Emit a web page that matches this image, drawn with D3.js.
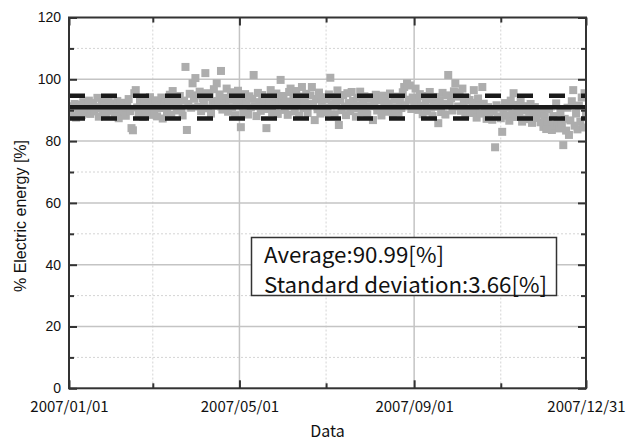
<!DOCTYPE html>
<html>
<head>
<meta charset="utf-8">
<script src="https://cdnjs.cloudflare.com/ajax/libs/d3/7.8.5/d3.min.js"></script>
<style>
	body { margin: 0; background: #fff; }
	.tick text { fill: #111; }
</style>
</head>
<body>
<div id="chart"></div>
<script>

// tick labels
var majorDates = ['2007/01/01', '2007/05/01', '2007/09/01', '2007/12/31'];
var minorDates = ['2007/03/01', '2007/07/01', '2007/11/01'];
var yMajor = [0, 20, 40, 60, 80, 100, 120];
var yMinor = [10, 30, 50, 70, 90, 110];

var average = 90.99;
var stdDev = 3.66;

// daily % electric energy, one array per month
var energyJan = [89.2, 90.5, 88.1, 91.3, 92.0, 87.6, 90.8, 89.9, 91.7, 88.4, 92.6, 90.1, 89.0, 91.9, 93.1, 88.8, 90.4, 92.3, 89.6, 91.0, 94.0, 87.9, 90.7, 92.8, 89.3, 91.5, 88.6, 90.2, 93.4, 89.8, 91.2];
var energyFeb = [92.1, 88.9, 90.6, 93.0, 87.4, 91.8, 89.5, 92.4, 90.0, 88.2, 91.4, 93.6, 89.7, 84.2, 83.5, 95.5, 96.5, 90.9, 88.7, 92.7, 91.1, 87.8, 93.3, 90.3, 89.1, 92.2, 94.2, 88.5];
var energyMar = [91.6, 89.4, 93.2, 88.0, 92.5, 90.7, 94.1, 87.3, 91.9, 93.8, 89.2, 92.9, 95.0, 88.6, 96.2, 91.4, 93.5, 89.9, 92.3, 94.6, 90.5, 88.3, 93.1, 104.0, 83.6, 92.0, 95.3, 90.8, 98.7, 93.7, 100.4];
var energyApr = [94.8, 91.2, 96.0, 89.7, 93.9, 92.4, 102.0, 95.5, 90.6, 94.3, 88.9, 93.0, 96.8, 91.5, 98.7, 92.8, 95.1, 102.7, 90.2, 94.0, 92.1, 97.0, 89.5, 93.6, 95.8, 91.0, 94.7, 88.4, 92.9, 96.3];
var energyMay = [91.8, 84.5, 93.4, 89.0, 95.2, 92.0, 88.6, 94.5, 90.9, 93.7, 101.4, 91.3, 88.1, 95.6, 92.6, 89.8, 94.9, 91.1, 93.0, 84.2, 90.4, 92.7, 96.5, 89.3, 94.1, 91.9, 95.4, 88.8, 93.3, 99.8, 92.2];
var energyJun = [94.6, 90.1, 92.8, 88.5, 95.9, 97.0, 91.4, 93.9, 89.6, 96.2, 92.5, 88.2, 94.4, 97.5, 90.7, 93.1, 95.3, 89.1, 92.0, 94.8, 97.5, 91.6, 86.8, 93.6, 90.3, 95.7, 88.9, 92.9, 94.2, 90.8];
var energyJul = [93.5, 89.4, 95.1, 100.5, 91.7, 94.3, 88.7, 92.6, 96.4, 85.2, 93.2, 90.0, 94.9, 91.2, 88.4, 95.5, 92.3, 89.7, 95.9, 93.0, 90.6, 87.9, 94.0, 91.5, 96.0, 89.2, 92.7, 94.5, 90.9, 88.6, 93.8];
var energyAug = [91.3, 94.2, 86.8, 92.4, 95.0, 89.9, 93.3, 90.5, 88.3, 94.7, 91.8, 93.9, 89.5, 92.1, 95.4, 90.2, 88.9, 93.6, 91.0, 94.4, 89.2, 92.9, 90.7, 95.8, 97.5, 91.6, 98.7, 93.4, 98.0, 90.4, 94.1];
var energySep = [92.6, 97.0, 93.7, 90.1, 95.2, 91.4, 88.7, 94.6, 92.2, 89.6, 93.5, 95.9, 90.8, 88.1, 92.9, 94.3, 91.1, 85.8, 93.2, 89.4, 95.6, 92.0, 88.6, 94.8, 101.4, 91.7, 93.9, 89.9, 96.1, 98.7];
var energyOct = [94.4, 91.2, 95.7, 89.8, 97.0, 92.7, 88.4, 94.0, 90.5, 93.3, 89.1, 92.4, 96.5, 90.0, 87.6, 93.8, 91.5, 88.9, 97.5, 92.1, 89.4, 87.2, 91.0, 88.5, 90.3, 86.9, 89.7, 78.0, 91.6, 88.0, 90.8];
var energyNov = [87.4, 83.0, 89.5, 92.3, 88.2, 90.9, 86.6, 93.1, 89.0, 95.5, 91.7, 87.8, 90.1, 88.6, 92.8, 86.3, 89.9, 91.3, 87.1, 90.6, 88.4, 92.0, 85.9, 89.3, 91.0, 87.5, 90.2, 88.8, 86.1, 89.6];
var energyDec = [84.6, 87.9, 83.9, 86.5, 90.4, 85.2, 83.6, 88.1, 84.9, 92.2, 86.0, 84.1, 89.3, 85.6, 78.7, 87.2, 83.4, 90.8, 82.0, 86.7, 92.9, 96.5, 85.0, 88.9, 83.8, 91.5, 86.3, 94.1, 84.4, 95.5, 89.0];

var svgWidth = 629;
var svgHeight = 441;
var margin = {top: 17.5, right: 43, bottom: 52.7, left: 69};
var plotW = svgWidth - margin.left - margin.right;
var plotH = svgHeight - margin.top - margin.bottom;

var parseDate = d3.timeParse('%Y/%m/%d');
var fmtDate = d3.timeFormat('%Y/%m/%d');

var energy = [].concat(energyJan, energyFeb, energyMar, energyApr, energyMay, energyJun,
	energyJul, energyAug, energySep, energyOct, energyNov, energyDec);

var data = [];
for (var i = 0; i < energy.length; i++) {
	data.push({date: d3.timeDay.offset(parseDate('2007/01/01'), i), value: energy[i]});
}

var x = d3.scaleTime()
	.domain([parseDate(majorDates[0]), parseDate(majorDates[majorDates.length - 1])])
	.range([0, plotW]);
var y = d3.scaleLinear().domain([0, 120]).range([plotH, 0]);

var svg = d3.select('#chart').append('svg')
	.attr('width', svgWidth)
	.attr('height', svgHeight)
	.style('font-family', '"Noto Sans CJK JP", sans-serif');

svg.append('defs').append('clipPath').attr('id', 'clip')
	.append('rect').attr('width', plotW).attr('height', plotH);

var g = svg.append('g')
	.attr('transform', 'translate(' + margin.left + ',' + margin.top + ')');

// grid
g.selectAll('.vgrid-major')
	.data(majorDates.slice(1, -1))
	.enter().append('line')
	.attr('x1', function(d) { return x(parseDate(d)); })
	.attr('x2', function(d) { return x(parseDate(d)); })
	.attr('y1', 0).attr('y2', plotH)
	.style('stroke', '#c4c4c4').style('stroke-width', 1.5);

g.selectAll('.vgrid-minor')
	.data(minorDates)
	.enter().append('line')
	.attr('x1', function(d) { return x(parseDate(d)); })
	.attr('x2', function(d) { return x(parseDate(d)); })
	.attr('y1', 0).attr('y2', plotH)
	.style('stroke', '#d4d4d4').style('stroke-width', 1).style('stroke-dasharray', '2,2');

g.selectAll('.hgrid-major')
	.data(yMajor.slice(1, -1))
	.enter().append('line')
	.attr('x1', 0).attr('x2', plotW)
	.attr('y1', function(d) { return y(d); })
	.attr('y2', function(d) { return y(d); })
	.style('stroke', '#c4c4c4').style('stroke-width', 1.5);

g.selectAll('.hgrid-minor')
	.data(yMinor)
	.enter().append('line')
	.attr('x1', 0).attr('x2', plotW)
	.attr('y1', function(d) { return y(d); })
	.attr('y2', function(d) { return y(d); })
	.style('stroke', '#d4d4d4').style('stroke-width', 1).style('stroke-dasharray', '2,2');

// points
g.append('g').attr('clip-path', 'url(#clip)')
	.selectAll('rect')
	.data(data)
	.enter().append('rect')
	.attr('x', function(d) { return x(d.date) - 4; })
	.attr('y', function(d) { return y(d.value) - 4; })
	.attr('width', 8)
	.attr('height', 8)
	.style('fill', '#adadad');

// average and +/- sd
var refLines = [
	{v: average, dash: null},
	{v: average + stdDev, dash: '16,16'},
	{v: average - stdDev, dash: '16,16'}
];
g.selectAll('.ref')
	.data(refLines)
	.enter().append('line')
	.attr('x1', 0).attr('x2', plotW)
	.attr('y1', function(d) { return y(d.v); })
	.attr('y2', function(d) { return y(d.v); })
	.style('stroke', '#1a1a1a')
	.style('stroke-width', 4.5)
	.style('stroke-dasharray', function(d) { return d.dash; });

// axes, ticks pointing inward
function styleAxis(sel) {
	sel.select('.domain').remove();
	sel.selectAll('.tick line').style('stroke', '#333').style('stroke-width', 2);
}

var majorX = majorDates.map(parseDate);
var minorX = minorDates.map(parseDate);

g.append('g')
	.attr('transform', 'translate(0,' + plotH + ')')
	.call(d3.axisBottom(x).tickValues(majorX).tickFormat(fmtDate).tickSizeInner(-8).tickSizeOuter(0).tickPadding(13))
	.call(styleAxis)
	.selectAll('text').style('font-size', '15px').style('font-family', '"Noto Sans CJK JP", sans-serif');

g.append('g')
	.attr('transform', 'translate(0,' + plotH + ')')
	.call(d3.axisBottom(x).tickValues(minorX).tickFormat('').tickSizeInner(-5).tickSizeOuter(0))
	.call(styleAxis);

g.append('g')
	.call(d3.axisTop(x).tickValues(majorX).tickFormat('').tickSizeInner(-8).tickSizeOuter(0))
	.call(styleAxis);
g.append('g')
	.call(d3.axisTop(x).tickValues(minorX).tickFormat('').tickSizeInner(-5).tickSizeOuter(0))
	.call(styleAxis);

g.append('g')
	.call(d3.axisLeft(y).tickValues(yMajor).tickSizeInner(-8).tickSizeOuter(0).tickPadding(8))
	.call(styleAxis)
	.selectAll('text').style('font-size', '14px').style('font-family', '"Liberation Sans", Arial, sans-serif');
g.append('g')
	.call(d3.axisLeft(y).tickValues(yMinor).tickFormat('').tickSizeInner(-5).tickSizeOuter(0))
	.call(styleAxis);

g.append('g')
	.attr('transform', 'translate(' + plotW + ',0)')
	.call(d3.axisRight(y).tickValues(yMajor).tickFormat('').tickSizeInner(-8).tickSizeOuter(0))
	.call(styleAxis);
g.append('g')
	.attr('transform', 'translate(' + plotW + ',0)')
	.call(d3.axisRight(y).tickValues(yMinor).tickFormat('').tickSizeInner(-5).tickSizeOuter(0))
	.call(styleAxis);

// frame
g.append('rect')
	.attr('width', plotW)
	.attr('height', plotH)
	.style('fill', 'none')
	.style('stroke', '#333')
	.style('stroke-width', 2);

// axis titles
svg.append('text')
	.attr('x', margin.left + plotW / 2)
	.attr('y', 437)
	.attr('text-anchor', 'middle')
	.style('font-size', '16px')
	.style('fill', '#111')
	.text('Data');

svg.append('text')
	.attr('transform', 'translate(26,216) rotate(-90)')
	.attr('text-anchor', 'middle')
	.style('font-size', '16px')
	.style('font-family', '"Liberation Sans", Arial, sans-serif')
	.style('fill', '#111')
	.text('% Electric energy [%]');

// stats box
var box = svg.append('g').attr('transform', 'translate(251.5,237.5)');
box.append('rect')
	.attr('width', 305)
	.attr('height', 58)
	.style('fill', '#fff')
	.style('stroke', '#333')
	.style('stroke-width', 1.5);
box.append('text')
	.attr('x', 12.5).attr('y', 25)
	.attr('textLength', 180).attr('lengthAdjust', 'spacingAndGlyphs')
	.style('font-size', '22px').style('fill', '#111')
	.text('Average:' + average.toFixed(2) + '[%]');
box.append('text')
	.attr('x', 12.5).attr('y', 55.5)
	.attr('textLength', 283).attr('lengthAdjust', 'spacingAndGlyphs')
	.style('font-size', '22px').style('fill', '#111')
	.text('Standard deviation:' + stdDev.toFixed(2) + '[%]');

</script>
</body>
</html>
